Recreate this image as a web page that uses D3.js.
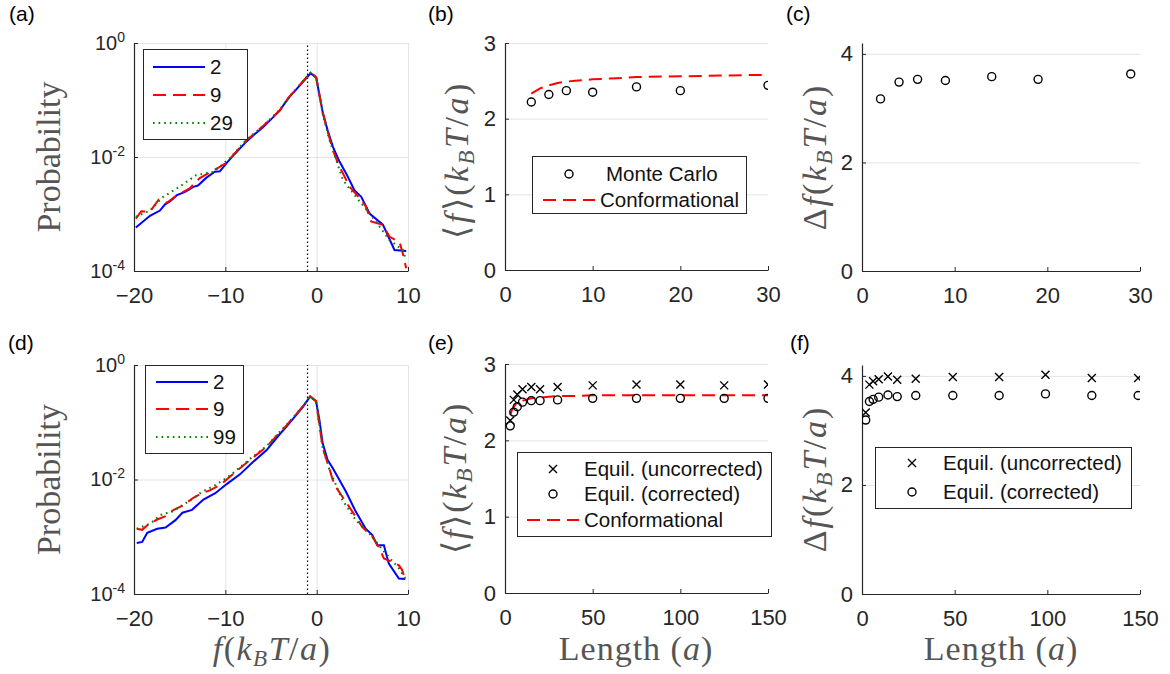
<!DOCTYPE html>
<html>
<head>
<meta charset="utf-8">
<script src="https://cdn.jsdelivr.net/npm/d3@7"></script>
<style>
  body { margin: 0; background: #fff; }
  svg text { font-family: "Liberation Sans", Arial, sans-serif; }
</style>
</head>
<body>
<svg id="chart" width="1170" height="674"></svg>
<script>
// ---- data ----

// (a) force distributions, lengths 2, 9, 29
const fA2 = [-19.8, -18.25, -17.16, -16.6, -16.07, -15.3, -14.4, -13.5, -13.0, -12.1, -11.15, -10.6, -9.87, -9, -7.7, -6.8, -5.9, -5.0, -4.04, -3.5, -2.95, -2.2, -1.5, -0.66, -0.05, 0.68, 1.2, 1.78, 2.5, 3.24, 4.15, 4.88, 5.79, 7.25, 8.52, 9.8];
const pA2 = [5.8e-4, 9.3e-4, 1.15e-3, 1.48e-3, 1.66e-3, 2.14e-3, 2.45e-3, 3.0e-3, 3.16e-3, 4.3e-3, 5.5e-3, 5.6e-3, 7.8e-3, 1.12e-2, 1.86e-2, 2.51e-2, 3.3e-2, 4.57e-2, 6.5e-2, 8.7e-2, 0.115, 0.155, 0.209, 0.295, 0.245, 0.059, 0.0295, 0.0151, 8.3e-3, 5.1e-3, 2.6e-3, 2.0e-3, 1.02e-3, 6.5e-4, 2.34e-4, 2.24e-4];
const fA9 = [-19.8, -19.2, -18.25, -17.3, -16.4, -15.3, -13.9, -12.8, -10.8, -9.87, -9, -7.7, -6.8, -5.9, -5.0, -4.04, -3.5, -2.95, -2.2, -1.5, -0.66, -0.05, 0.68, 1.2, 1.78, 2.33, 3.6, 4.7, 5.4, 5.96, 7.25, 7.98, 9.07, 9.43, 9.8];
const pA9 = [8.3e-4, 1.12e-3, 1.10e-3, 1.78e-3, 1.58e-3, 2.14e-3, 2.82e-3, 4.27e-3, 6.46e-3, 7.94e-3, 1.15e-2, 1.95e-2, 2.6e-2, 3.47e-2, 4.7e-2, 6.6e-2, 8.8e-2, 0.117, 0.157, 0.214, 0.302, 0.251, 0.0589, 0.028, 0.0132, 7.76e-3, 3.02e-3, 1.91e-3, 1.35e-3, 7.41e-4, 6.46e-4, 3.98e-4, 3.24e-4, 2.04e-4, 1.12e-4];
const fA29 = [-19.8, -18.25, -16.8, -15, -13.2, -11.3, -9.5, -7.7, -5.9, -4.04, -2.95, -1.5, -0.66, -0.05, 0.68, 1.4, 2.87, 4.3, 5.8, 7.98, 9.43, 9.8];
const pA29 = [8.9e-4, 1.15e-3, 2.0e-3, 3.02e-3, 4.79e-3, 5.5e-3, 9.55e-3, 2.0e-2, 3.47e-2, 6.76e-2, 0.117, 0.214, 0.302, 0.251, 0.0562, 0.02, 3.98e-3, 2.0e-3, 1.02e-3, 3.47e-4, 2.34e-4, 1.55e-4];

// (d) force distributions, lengths 2, 9, 99
const fD2 = [-19.7, -19.1, -18.55, -17.46, -16.55, -15.46, -14.7, -13.65, -12.4, -11.1, -9.85, -8.4, -6.95, -5.5, -4.05, -3.33, -1.5, -0.72, -0.07, 0.3, 0.66, 1.2, 1.74, 3.2, 4.28, 5.37, 6.1, 6.63, 7.36, 7.9, 9.0, 9.7];
const pD2 = [7.76e-4, 8.13e-4, 1.17e-3, 1.38e-3, 1.45e-3, 1.95e-3, 2.63e-3, 2.95e-3, 4.47e-3, 5.75e-3, 8.32e-3, 1.23e-2, 2.04e-2, 3.24e-2, 6.17e-2, 8.32e-2, 0.186, 0.282, 0.234, 0.11, 0.0427, 0.0219, 0.016, 6.17e-3, 2.75e-3, 1.38e-3, 1.07e-3, 7.08e-4, 7.08e-4, 3.39e-4, 1.86e-4, 1.82e-4];
const fD9 = [-19.7, -19.1, -18.55, -17.46, -16.55, -15.65, -14.6, -13.5, -12.6, -11.7, -10.6, -9.5, -7.3, -5.5, -4.05, -3.33, -1.5, -0.72, -0.07, 0.66, 1.38, 1.74, 2.1, 3.57, 5.0, 6.1, 6.8, 7.36, 8.26, 9.0, 9.36, 9.7];
const pD9 = [1.38e-3, 1.32e-3, 1.58e-3, 2.0e-3, 2.29e-3, 2.95e-3, 3.55e-3, 4.79e-3, 5.75e-3, 6.46e-3, 7.94e-3, 1.12e-2, 2.19e-2, 3.72e-2, 6.61e-2, 8.71e-2, 0.191, 0.282, 0.234, 0.0355, 0.0158, 0.01, 7.4e-3, 3.31e-3, 1.48e-3, 1.0e-3, 6.61e-4, 4.17e-4, 3.63e-4, 3.16e-4, 2.63e-4, 1.74e-4];
const fD99 = [-19.7, -18.2, -17.1, -15.65, -14.6, -13.5, -12.6, -11.1, -9.5, -7.3, -5.5, -4.05, -3.33, -1.5, -0.72, -0.07, 0.66, 1.38, 2.82, 4.28, 5.75, 7.54, 9.0, 9.7];
const pD99 = [1.38e-3, 1.70e-3, 2.40e-3, 2.82e-3, 3.63e-3, 4.68e-3, 6.03e-3, 7.94e-3, 1.17e-2, 2.29e-2, 3.80e-2, 6.76e-2, 8.91e-2, 0.191, 0.282, 0.234, 0.0355, 0.0151, 4.37e-3, 1.95e-3, 1.15e-3, 5.13e-4, 2.82e-4, 1.86e-4];
const forceMean = -1; // dotted vertical line in (a) and (d)

// (b) mean force, Monte Carlo
const lenB = [3, 5, 7, 10, 15, 20, 30];
const meanMC = [2.22, 2.32, 2.37, 2.35, 2.42, 2.37, 2.44];
// conformational estimate, used in (b) and (e)
const lenConf = [3, 4, 5, 6, 7, 8, 10, 12, 15, 20, 25, 30, 40, 50, 75, 100, 125, 150];
const meanConf = [2.33, 2.40, 2.44, 2.47, 2.49, 2.50, 2.52, 2.53, 2.55, 2.56, 2.57, 2.58, 2.58, 2.59, 2.59, 2.59, 2.59, 2.59];

// (c) force spread, Monte Carlo
const lenC = [2, 4, 6, 9, 14, 19, 29];
const spreadMC = [3.17, 3.48, 3.53, 3.51, 3.58, 3.53, 3.63];

// (e) mean force, equilibrium
const lenE = [3, 5, 7, 10, 15, 20, 30, 50, 75, 100, 125, 150];
const meanUncorr = [2.26, 2.53, 2.60, 2.67, 2.70, 2.67, 2.70, 2.72, 2.73, 2.73, 2.72, 2.73];
const meanCorr = [2.19, 2.37, 2.44, 2.50, 2.52, 2.52, 2.53, 2.55, 2.55, 2.55, 2.55, 2.55];

// (f) force spread, equilibrium
const lenF = [2, 4, 6, 9, 14, 19, 29, 49, 74, 99, 124, 149];
const spreadUncorr = [3.33, 3.84, 3.90, 3.94, 3.99, 3.93, 3.95, 3.98, 3.98, 4.02, 3.96, 3.96];
const spreadCorr = [3.19, 3.53, 3.57, 3.61, 3.65, 3.62, 3.64, 3.64, 3.64, 3.67, 3.64, 3.64];

// ---- layout ----
const cols = [[134, 408], [505, 768], [862, 1140]];
const rows = [[271, 43], [594, 365]];
const axisColor = "#262626";
const labelColor = "#555";
const redDash = "13,7";

const svg = d3.select("#chart");

// build one set of axes with grid, returns the plot group
function makeAxes(id, x, y, opt) {
  const [x0, x1] = x.range();
  const [y0, y1] = y.range();
  const g = svg.append("g").attr("id", id);

  g.append("clipPath").attr("id", "clip-" + id)
    .append("rect").attr("x", x0).attr("y", y1).attr("width", x1 - x0).attr("height", y0 - y1);

  // grid lines
  if (opt.yGrid) {
    g.append("g").attr("class", "grid").attr("transform", `translate(${x0},0)`)
      .call(d3.axisLeft(y).tickValues(opt.yTicks).tickSize(-(x1 - x0)).tickFormat(""));
  }
  if (opt.xGrid) {
    g.append("g").attr("class", "grid").attr("transform", `translate(0,${y0})`)
      .call(d3.axisBottom(x).tickValues(opt.xTicks).tickSize(-(y0 - y1)).tickFormat(""));
  }
  g.selectAll(".grid path").remove();
  g.selectAll(".grid line").attr("stroke", "#e3e3e3").attr("stroke-width", 1);

  // x axis
  const xa = g.append("g").attr("transform", `translate(0,${y0})`)
    .call(d3.axisBottom(x).tickValues(opt.xTicks).tickSizeInner(-4).tickSizeOuter(0).tickPadding(16));
  // y axis
  const ya = g.append("g").attr("transform", `translate(${x0},0)`)
    .call(d3.axisLeft(y).tickValues(opt.yTicks).tickSizeInner(-4).tickSizeOuter(0).tickPadding(9)
      .tickFormat(opt.log ? () => "" : d3.format("d")));

  if (opt.log) {
    ya.selectAll(".tick text").each(function (d) {
      const t = d3.select(this);
      t.append("tspan").text("10");
      t.append("tspan").attr("dy", "-0.6em").attr("font-size", "14px").text(Math.round(Math.log10(d)));
    });
  }

  [xa, ya].forEach((a) => {
    a.attr("font-family", null).attr("font-size", null);
    a.select(".domain").attr("stroke", axisColor).attr("stroke-width", 1.2);
    a.selectAll(".tick line").attr("stroke", axisColor);
    a.selectAll(".tick text").attr("fill", axisColor).style("font-size", "22px");
  });
  ya.selectAll(".tick text").style("font-size", opt.log ? "20px" : "22px");

  return g.append("g").attr("clip-path", `url(#clip-${id})`);
}

// math-style label made of tspans [text, italic, sub]
function mathLabel(parent, parts, x, y, rotate, spacing) {
  const t = parent.append("text")
    .attr("transform", `translate(${x},${y})` + (rotate ? " rotate(-90)" : ""))
    .attr("text-anchor", "middle")
    .attr("fill", labelColor)
    .style("font-family", "'Liberation Serif', 'Times New Roman', serif")
    .style("font-size", "34px")
    .style("letter-spacing", (spacing || 0) + "px");
  parts.forEach(([s, it, sub]) => {
    const ts = t.append("tspan").text(s);
    if (it) ts.style("font-style", "italic");
    if (sub) ts.attr("baseline-shift", "-25%").style("font-size", "23px");
  });
  return t;
}

function panelLabel(s, x, y) {
  svg.append("text").attr("x", x).attr("y", y).attr("fill", "#000")
    .style("font-size", "21px").text(s);
}

function legendBox(x, y, w, h) {
  svg.append("rect").attr("x", x + 0.5).attr("y", y + 0.5).attr("width", w).attr("height", h)
    .attr("fill", "#fff").attr("stroke", axisColor).attr("stroke-width", 1);
}
function legendText(s, x, y) {
  svg.append("text").attr("x", x).attr("y", y).attr("dy", "0.36em").attr("fill", "#111")
    .style("font-size", "20.5px").text(s);
}

const seriesStyle = [
  { color: "#0000ff", dash: null },
  { color: "#ff0000", dash: redDash },
  { color: "#008000", dash: "1.6,4" },
];

function crossPath(s) {
  return `M${-s},${-s}L${s},${s}M${-s},${s}L${s},${-s}`;
}

// ---- (a) and (d): probability distributions ----
function distPanel(id, row, series, labels, legendPos) {
  const x = d3.scaleLinear().domain([-20, 10]).range(cols[0]);
  const y = d3.scaleLog().domain([1e-4, 1]).range(rows[row]);
  const plot = makeAxes(id, x, y, {
    xTicks: [-20, -10, 0, 10], yTicks: [1e-4, 1e-2, 1], xGrid: true, yGrid: true, log: true,
  });

  plot.append("line")
    .attr("x1", x(forceMean)).attr("x2", x(forceMean))
    .attr("y1", y.range()[0]).attr("y2", y.range()[1])
    .attr("stroke", "#000").attr("stroke-width", 1.2).attr("stroke-dasharray", "1.5,2.5");

  const line = d3.line().x((d) => x(d[0])).y((d) => y(d[1]));
  series.forEach(([fs, ps], i) => {
    plot.append("path").datum(d3.zip(fs, ps)).attr("d", line)
      .attr("fill", "none").attr("stroke", seriesStyle[i].color).attr("stroke-width", 2)
      .attr("stroke-dasharray", seriesStyle[i].dash);
  });

  const lp = legendPos;
  legendBox(lp.x, lp.y, lp.w, lp.h);
  labels.forEach((s, i) => {
    const ry = lp.rows[i];
    svg.append("line").attr("x1", lp.lx0).attr("x2", lp.lx1).attr("y1", ry).attr("y2", ry)
      .attr("stroke", seriesStyle[i].color).attr("stroke-width", 2)
      .attr("stroke-dasharray", seriesStyle[i].dash);
    legendText(s, lp.tx, ry);
  });

  svg.append("text")
    .attr("transform", `translate(60,${(y.range()[0] + y.range()[1]) / 2}) rotate(-90)`)
    .attr("text-anchor", "middle").attr("fill", labelColor)
    .style("font-family", "'Liberation Serif', 'Times New Roman', serif")
    .style("font-size", "34px").text("Probability");
}

distPanel("pa", 0, [[fA2, pA2], [fA9, pA9], [fA29, pA29]], ["2", "9", "29"],
  { x: 143, y: 49, w: 104, h: 90, lx0: 153, lx1: 205, tx: 210, rows: [67, 95, 123] });
distPanel("pd", 1, [[fD2, pD2], [fD9, pD9], [fD99, pD99]], ["2", "9", "99"],
  { x: 145, y: 365, w: 98, h: 88, lx0: 156, lx1: 208, tx: 213, rows: [382, 409, 437] });

mathLabel(svg, [["f", true], ["("], ["k", true], ["B", true, true], ["T", true], ["/"], ["a", true], [")"]],
  272, 660, false, 1.5);

// ---- (b) mean force vs length, Monte Carlo ----
{
  const x = d3.scaleLinear().domain([0, 30]).range(cols[1]);
  const y = d3.scaleLinear().domain([0, 3]).range([270, 43]);
  const plot = makeAxes("pb", x, y, { xTicks: [0, 10, 20, 30], yTicks: [0, 1, 2, 3], yGrid: true });
  const line = d3.line().x((d) => x(d[0])).y((d) => y(d[1]));
  plot.append("path").datum(d3.zip(lenConf, meanConf).filter((d) => d[0] <= 30)).attr("d", line)
    .attr("fill", "none").attr("stroke", "#ff0000").attr("stroke-width", 2).attr("stroke-dasharray", redDash);
  plot.selectAll("circle").data(d3.zip(lenB, meanMC)).join("circle")
    .attr("cx", (d) => x(d[0])).attr("cy", (d) => y(d[1])).attr("r", 4)
    .attr("fill", "none").attr("stroke", "#000").attr("stroke-width", 1.4);

  legendBox(532, 156, 214, 57);
  svg.append("circle").attr("cx", 569).attr("cy", 174).attr("r", 4)
    .attr("fill", "none").attr("stroke", "#000").attr("stroke-width", 1.4);
  legendText("Monte Carlo", 606, 174);
  svg.append("line").attr("x1", 543).attr("x2", 595).attr("y1", 200).attr("y2", 200)
    .attr("stroke", "#ff0000").attr("stroke-width", 2).attr("stroke-dasharray", redDash);
  legendText("Conformational", 600, 200);

  mathLabel(svg, [["⟨"], ["f", true], ["⟩"], ["("], ["k", true], ["B", true, true], ["T", true], ["/"], ["a", true], [")"]],
    468, 160, true, 2.5);
}

// ---- (c) force spread vs length, Monte Carlo ----
{
  const x = d3.scaleLinear().domain([0, 30]).range(cols[2]);
  const y = d3.scaleLinear().domain([0, 4.2]).range(rows[0]);
  const plot = makeAxes("pc", x, y, { xTicks: [0, 10, 20, 30], yTicks: [0, 2, 4], yGrid: true });
  plot.selectAll("circle").data(d3.zip(lenC, spreadMC)).join("circle")
    .attr("cx", (d) => x(d[0])).attr("cy", (d) => y(d[1])).attr("r", 4)
    .attr("fill", "none").attr("stroke", "#000").attr("stroke-width", 1.4);
  mathLabel(svg, [["Δ"], ["f", true], ["("], ["k", true], ["B", true, true], ["T", true], ["/"], ["a", true], [")"]],
    826, 157, true, 2);
}

// ---- (e) mean force vs length, equilibrium ----
{
  const x = d3.scaleLinear().domain([0, 150]).range(cols[1]);
  const y = d3.scaleLinear().domain([0, 3]).range([593, 364]);
  const plot = makeAxes("pe", x, y, { xTicks: [0, 50, 100, 150], yTicks: [0, 1, 2, 3], yGrid: true });
  const line = d3.line().x((d) => x(d[0])).y((d) => y(d[1]));
  plot.append("path").datum(d3.zip(lenConf, meanConf)).attr("d", line)
    .attr("fill", "none").attr("stroke", "#ff0000").attr("stroke-width", 2).attr("stroke-dasharray", redDash);
  plot.selectAll("path.cross").data(d3.zip(lenE, meanUncorr)).join("path").attr("class", "cross")
    .attr("transform", (d) => `translate(${x(d[0])},${y(d[1])})`).attr("d", crossPath(4))
    .attr("stroke", "#000").attr("stroke-width", 1.4);
  plot.selectAll("circle").data(d3.zip(lenE, meanCorr)).join("circle")
    .attr("cx", (d) => x(d[0])).attr("cy", (d) => y(d[1])).attr("r", 4)
    .attr("fill", "none").attr("stroke", "#000").attr("stroke-width", 1.4);

  legendBox(517, 452, 254, 84);
  svg.append("path").attr("transform", "translate(553,469)").attr("d", crossPath(4))
    .attr("stroke", "#000").attr("stroke-width", 1.4);
  legendText("Equil. (uncorrected)", 584, 469);
  svg.append("circle").attr("cx", 553).attr("cy", 494).attr("r", 4)
    .attr("fill", "none").attr("stroke", "#000").attr("stroke-width", 1.4);
  legendText("Equil. (corrected)", 584, 494);
  svg.append("line").attr("x1", 527).attr("x2", 579).attr("y1", 520).attr("y2", 520)
    .attr("stroke", "#ff0000").attr("stroke-width", 2).attr("stroke-dasharray", redDash);
  legendText("Conformational", 584, 520);

  mathLabel(svg, [["⟨"], ["f", true], ["⟩"], ["("], ["k", true], ["B", true, true], ["T", true], ["/"], ["a", true], [")"]],
    466, 478, true, 2);
  mathLabel(svg, [["Length ("], ["a", true], [")"]], 636, 660, false, 1);
}

// ---- (f) force spread vs length, equilibrium ----
{
  const x = d3.scaleLinear().domain([0, 150]).range(cols[2]);
  const y = d3.scaleLinear().domain([0, 4.2]).range(rows[1]);
  const plot = makeAxes("pf", x, y, { xTicks: [0, 50, 100, 150], yTicks: [0, 2, 4], yGrid: true });
  plot.selectAll("path.cross").data(d3.zip(lenF, spreadUncorr)).join("path").attr("class", "cross")
    .attr("transform", (d) => `translate(${x(d[0])},${y(d[1])})`).attr("d", crossPath(4))
    .attr("stroke", "#000").attr("stroke-width", 1.4);
  plot.selectAll("circle").data(d3.zip(lenF, spreadCorr)).join("circle")
    .attr("cx", (d) => x(d[0])).attr("cy", (d) => y(d[1])).attr("r", 4)
    .attr("fill", "none").attr("stroke", "#000").attr("stroke-width", 1.4);

  legendBox(875, 447, 256, 61);
  svg.append("path").attr("transform", "translate(912,463)").attr("d", crossPath(4))
    .attr("stroke", "#000").attr("stroke-width", 1.4);
  legendText("Equil. (uncorrected)", 943, 463);
  svg.append("circle").attr("cx", 912).attr("cy", 492).attr("r", 4)
    .attr("fill", "none").attr("stroke", "#000").attr("stroke-width", 1.4);
  legendText("Equil. (corrected)", 943, 492);

  mathLabel(svg, [["Δ"], ["f", true], ["("], ["k", true], ["B", true, true], ["T", true], ["/"], ["a", true], [")"]],
    826, 479, true, 2);
  mathLabel(svg, [["Length ("], ["a", true], [")"]], 1001, 660, false, 1);
}

panelLabel("(a)", 9, 21);
panelLabel("(b)", 428, 21);
panelLabel("(c)", 786, 21);
panelLabel("(d)", 8, 350);
panelLabel("(e)", 428, 350);
panelLabel("(f)", 790, 350);
</script>
</body>
</html>
